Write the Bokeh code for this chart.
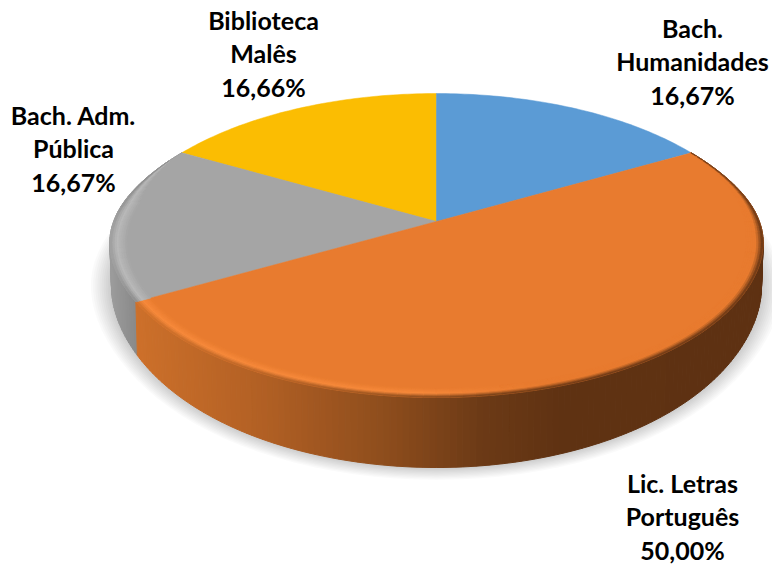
import math
from bokeh.plotting import figure
from bokeh.embed import file_html
from bokeh.resources import INLINE
from bokeh.models import Range1d
from bokeh.core.properties import value

categories = ["Bach. Humanidades", "Lic. Letras Português", "Bach. Adm. Pública", "Biblioteca Malês"]
percentages = [16.67, 50.00, 16.67, 16.66]
label_texts = ["Bach.\nHumanidades\n16,67%", "Lic. Letras\nPortuguês\n50,00%",
               "Bach. Adm.\nPública\n16,67%", "Biblioteca\nMalês\n16,66%"]
colors = ["#5B9BD5", "#E87B2F", "#A5A5A5", "#FBBD02"]

W, H = 772, 565
CX, CY, A, K, KX, G = 436.0, 221.0, 317.5, 0.158, 0.165, 148.2
BS, BY, BG = 0.995, 260.6, 173.8


def proj(theta, r=1.0, bottom=False):
    t = math.radians(theta)
    X, Z = r * math.sin(t), r * math.cos(t)
    d = 1 + K * Z
    x = A * X / (1 + KX * Z) * (1 + 0.017 * abs(X) ** 12)
    if bottom:
        return CX + BS * x, BY - BG * Z / d
    return CX + x, CY - G * Z / d


def interp(stops, x):
    if x <= stops[0][0]:
        return stops[0][1]
    for (a, ca), (b, cb) in zip(stops, stops[1:]):
        if x <= b:
            f = (x - a) / (b - a)
            return tuple(p + (q - p) * f for p, q in zip(ca, cb))
    return stops[-1][1]


def mix(a, b, f):
    return tuple(p + (q - p) * f for p, q in zip(a, b))


def hexc(c):
    return "#%02x%02x%02x" % tuple(int(round(v)) for v in c)


def rgb(h):
    return tuple(int(h[i:i + 2], 16) for i in (1, 3, 5))


ORANGE_WALL = [(135, (205, 112, 42)), (260, (178, 96, 36)), (390, (140, 76, 28)),
               (480, (108, 58, 22)), (560, (95, 50, 18)), (770, (94, 49, 18))]
GREY_WALL = [(108, (158, 158, 158)), (137, (136, 136, 136))]

# slice angles, clockwise from twelve o'clock
total = sum(percentages)
edges = [0.0]
for v in percentages:
    edges.append(edges[-1] + 360.0 * v / total)

p = figure(width=W, height=H, output_backend="svg", toolbar_location=None,
           x_range=Range1d(0, W), y_range=Range1d(H, 0), min_border=0,
           outline_line_color=None)
p.axis.visible = False
p.grid.visible = False
p.background_fill_color = "white"
p.border_fill_color = "white"

# soft shadow
n = 10
for i in range(n):
    r = 1.05 - i * 0.05 / n
    pts = [proj(a, r, True) for a in range(0, 360, 3)]
    p.patch([q[0] for q in pts], [q[1] for q in pts], fill_color="black",
            fill_alpha=0.018, line_color=None)

# outer wall of the orange and grey slices, far to near
wx, wy, wc = [], [], []
orange_start, orange_end = edges[1], edges[2]
grey_end = edges[3]
steps = []
a = orange_start
while a < grey_end:
    steps.append(a)
    a += 1.0
steps.sort(key=lambda s: -math.cos(math.radians(s)))
for a in steps:
    b = min(a + 1.0, grey_end)
    p1, p2, p3, p4 = proj(a), proj(b), proj(b, 1, True), proj(a, 1, True)
    xm = (p1[0] + p2[0]) / 2
    stops = ORANGE_WALL if a < orange_end else GREY_WALL
    wx.append([p1[0], p2[0], p3[0], p4[0]])
    wy.append([p1[1], p2[1], p3[1], p4[1]])
    wc.append(hexc(interp(stops, xm)))
p.patches(wx, wy, fill_color=wc, line_color=wc, line_width=1)

# top faces
for i in [3, 2, 0, 1]:
    n_seg = max(2, int(edges[i + 1] - edges[i]))
    angs = [edges[i] + (edges[i + 1] - edges[i]) * j / n_seg for j in range(n_seg + 1)]
    pts = [(CX, CY)] + [proj(a) for a in angs]
    p.patch([q[0] for q in pts], [q[1] for q in pts], fill_color=colors[i],
            line_color=colors[i], line_width=0.5)

# bevel on the rim
bx, by, bc = [], [], []
BAND = 0.045
LEVELS = 8
a = orange_start
while a < grey_end:
    b = min(a + 2.0, grey_end)
    is_orange = a < orange_end
    base = rgb(colors[1] if is_orange else colors[2])
    x0 = proj(a + 1.0)[0]
    if is_orange:
        width = BAND * min(1.0, 0.15 + (a - orange_start) / 40)
        light = min(1.0, max(0.0, (540 - x0) / 120))
        hl = mix(base, (247, 138, 60), light)
        wall = interp(ORANGE_WALL, x0)
    else:
        width = BAND * min(1.0, max(0.0, (296 - a) / 20))
        hl = (186, 186, 186)
        wall = interp(GREY_WALL, x0)
    if width > 0.002:
        for L in range(LEVELS):
            t0, t1 = L / LEVELS, (L + 1) / LEVELS
            tm = (t0 + t1) / 2
            c = mix(base, hl, tm / 0.6) if tm < 0.6 else mix(hl, wall, (tm - 0.6) / 0.4)
            r0, r1 = 1 - width * (1 - t0), 1 - width * (1 - t1)
            q = [proj(a, r0), proj(b, r0), proj(b, r1), proj(a, r1)]
            bx.append([u[0] for u in q])
            by.append([u[1] for u in q])
            bc.append(hexc(c))
    a = b
p.patches(bx, by, fill_color=bc, line_color=bc, line_width=0.6)

# data labels
label_x = [692, 682, 73, 263]
label_y = [61, 516, 148, 53]
p.text(label_x, label_y, text=label_texts, text_font=value("Lato"),
       text_font_style="bold", text_font_size="25px", text_color="#000000",
       text_align="center", text_baseline="middle", text_line_height=1.12)

open("out.html", "w").write(file_html(p, INLINE))
